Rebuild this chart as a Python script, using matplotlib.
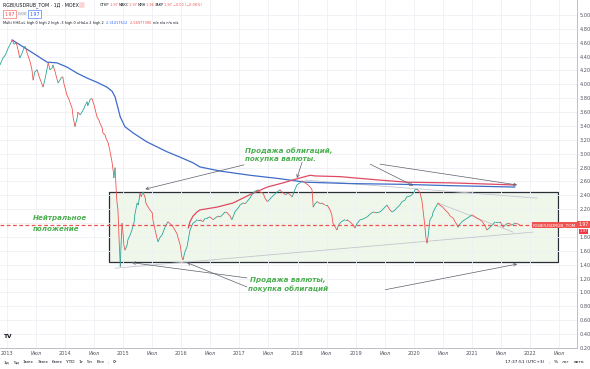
import matplotlib
matplotlib.use('Agg')
import matplotlib.pyplot as plt
import numpy as np
from matplotlib.collections import LineCollection
from matplotlib.patches import Rectangle

plt.rcParams['font.family'] = ['DejaVu Sans']

# ---- data (decimal years, price) ----
price_t = [2012.88, 2012.93, 2012.97, 2013.02, 2013.05, 2013.09, 2013.12, 2013.16, 2013.19, 2013.22,
           2013.26, 2013.29, 2013.31, 2013.34, 2013.40, 2013.43, 2013.45, 2013.48, 2013.52, 2013.55,
           2013.59, 2013.62, 2013.65, 2013.67, 2013.71, 2013.74, 2013.78, 2013.79, 2013.83, 2013.84,
           2013.88, 2013.91, 2013.93, 2013.96, 2013.98, 2014.00, 2014.03, 2014.07, 2014.08, 2014.12,
           2014.14, 2014.17, 2014.19, 2014.21, 2014.22, 2014.26, 2014.29, 2014.33, 2014.34, 2014.38,
           2014.39, 2014.43, 2014.46, 2014.50, 2014.52, 2014.55, 2014.58, 2014.60, 2014.64, 2014.65,
           2014.69, 2014.70, 2014.74, 2014.77, 2014.81, 2014.83, 2014.84, 2014.86, 2014.88, 2014.89,
           2014.91, 2014.93, 2014.95, 2014.96, 2014.98, 2015.00, 2015.01, 2015.03, 2015.07, 2015.08,
           2015.12, 2015.15, 2015.19, 2015.20, 2015.24, 2015.26, 2015.29, 2015.31, 2015.34, 2015.38,
           2015.39, 2015.43, 2015.46, 2015.50, 2015.51, 2015.55, 2015.58, 2015.60, 2015.63, 2015.67,
           2015.70, 2015.72, 2015.75, 2015.77, 2015.81, 2015.84, 2015.87, 2015.89, 2015.93, 2015.94,
           2015.98, 2016.01, 2016.03, 2016.06, 2016.10, 2016.12, 2016.15, 2016.18, 2016.20, 2016.24,
           2016.27, 2016.32, 2016.37, 2016.41, 2016.44, 2016.49, 2016.55, 2016.58, 2016.63, 2016.67,
           2016.72, 2016.75, 2016.79, 2016.84, 2016.87, 2016.91, 2016.92, 2016.98, 2017.01, 2017.06,
           2017.10, 2017.13, 2017.18, 2017.23, 2017.27, 2017.32, 2017.35, 2017.41, 2017.44, 2017.48,
           2017.51, 2017.56, 2017.60, 2017.65, 2017.70, 2017.73, 2017.79, 2017.84, 2017.87, 2017.91,
           2017.94, 2017.99, 2018.04, 2018.08, 2018.13, 2018.18, 2018.22, 2018.25, 2018.27, 2018.30,
           2018.34, 2018.39, 2018.42, 2018.47, 2018.51, 2018.56, 2018.59, 2018.61, 2018.65, 2018.68,
           2018.70, 2018.73, 2018.77, 2018.82, 2018.85, 2018.90, 2018.94, 2018.99, 2019.02, 2019.08,
           2019.13, 2019.20, 2019.25, 2019.30, 2019.35, 2019.42, 2019.47, 2019.54, 2019.59, 2019.63,
           2019.68, 2019.71, 2019.76, 2019.80, 2019.85, 2019.88, 2019.94, 2019.97, 2020.01, 2020.02,
           2020.06, 2020.09, 2020.11, 2020.14, 2020.16, 2020.19, 2020.21, 2020.23, 2020.25, 2020.28,
           2020.32, 2020.33, 2020.37, 2020.42, 2020.45, 2020.50, 2020.54, 2020.59, 2020.63, 2020.68,
           2020.71, 2020.75, 2020.76, 2020.80, 2020.83, 2020.88, 2020.92, 2020.97, 2021.00, 2021.06,
           2021.09, 2021.14, 2021.18, 2021.23, 2021.26, 2021.30, 2021.35, 2021.40, 2021.45, 2021.49,
           2021.54, 2021.57, 2021.62, 2021.66, 2021.69, 2021.74, 2021.79, 2021.83]
price_v = [4.28, 4.38, 4.42, 4.52, 4.57, 4.64, 4.58, 4.60, 4.50, 4.38,
           4.45, 4.52, 4.55, 4.47, 4.32, 4.21, 4.06, 4.18, 4.21, 4.12,
           4.03, 3.96, 4.06, 4.14, 4.31, 4.21, 4.24, 4.28, 4.18, 4.14,
           4.02, 4.06, 4.09, 4.11, 4.01, 3.95, 3.85, 3.78, 3.75, 3.66,
           3.52, 3.39, 3.46, 3.52, 3.60, 3.56, 3.60, 3.66, 3.69, 3.75,
           3.69, 3.78, 3.80, 3.70, 3.63, 3.53, 3.49, 3.44, 3.37, 3.30,
           3.27, 3.23, 3.16, 3.05, 2.87, 2.74, 2.65, 2.80, 2.48, 2.33,
           2.19, 1.76, 1.37, 1.61, 2.00, 1.83, 1.69, 1.61, 1.69, 1.76,
           1.83, 1.90, 2.02, 2.12, 2.29, 2.26, 2.43, 2.38, 2.45, 2.36,
           2.29, 2.23, 2.19, 2.15, 2.05, 1.90, 1.79, 1.73, 1.79, 1.83,
           1.90, 1.94, 1.99, 2.02, 1.99, 1.97, 1.93, 1.90, 1.84, 1.80,
           1.69, 1.51, 1.47, 1.58, 1.66, 1.76, 1.90, 1.96, 2.00, 2.02,
           2.05, 2.05, 2.02, 2.07, 2.07, 2.09, 2.05, 2.07, 2.10, 2.09,
           2.13, 2.16, 2.15, 2.10, 2.05, 2.13, 2.16, 2.22, 2.26, 2.29,
           2.28, 2.31, 2.36, 2.43, 2.46, 2.48, 2.45, 2.43, 2.36, 2.31,
           2.33, 2.38, 2.41, 2.45, 2.48, 2.45, 2.41, 2.43, 2.41, 2.38,
           2.45, 2.55, 2.58, 2.61, 2.58, 2.55, 2.52, 2.48, 2.23, 2.28,
           2.31, 2.28, 2.29, 2.26, 2.26, 2.19, 2.12, 2.00, 1.94, 1.90,
           1.96, 2.00, 2.03, 2.05, 2.05, 2.02, 1.99, 1.93, 1.99, 2.05,
           2.06, 2.09, 2.13, 2.16, 2.15, 2.16, 2.20, 2.26, 2.19, 2.16,
           2.19, 2.22, 2.26, 2.31, 2.33, 2.38, 2.39, 2.41, 2.45, 2.48,
           2.49, 2.46, 2.43, 2.33, 2.19, 1.97, 1.79, 1.71, 1.83, 2.05,
           2.10, 2.15, 2.22, 2.29, 2.26, 2.23, 2.19, 2.15, 2.10, 2.07,
           2.02, 1.97, 1.94, 1.99, 2.02, 2.05, 2.07, 2.10, 2.12, 2.09,
           2.07, 2.05, 2.02, 1.96, 1.90, 1.93, 1.97, 2.02, 2.02, 2.02,
           1.94, 1.97, 2.00, 1.99, 1.97, 2.00, 1.99, 1.97]

ma_blue_t = [2013.09, 2013.28, 2013.45, 2013.69, 2013.86, 2014.03, 2014.21, 2014.38, 2014.55, 2014.72,
             2014.81, 2014.86, 2014.91, 2014.95, 2015.03, 2015.17, 2015.41, 2015.58, 2015.75, 2015.98,
             2016.20, 2016.32, 2016.67, 2017.18, 2017.70, 2018.13, 2018.90, 2019.76, 2020.63, 2021.74]
ma_blue_v = [4.64, 4.54, 4.45, 4.32, 4.31, 4.25, 4.16, 4.09, 4.03, 3.96,
             3.90, 3.82, 3.66, 3.53, 3.39, 3.30, 3.17, 3.10, 3.03, 2.95,
             2.87, 2.81, 2.75, 2.69, 2.64, 2.59, 2.57, 2.56, 2.54, 2.52]

ma_red_t = [2016.12, 2016.15, 2016.20, 2016.27, 2016.32, 2016.61, 2016.89, 2017.18, 2017.48, 2017.75,
            2018.04, 2018.22, 2018.30, 2018.73, 2019.42, 2019.88, 2020.63, 2021.02, 2021.74]
ma_red_v = [1.93, 2.02, 2.10, 2.16, 2.19, 2.23, 2.29, 2.41, 2.52, 2.58,
            2.65, 2.69, 2.68, 2.67, 2.62, 2.59, 2.58, 2.57, 2.55]

support_t = [2014.86, 2022.05]
support_v = [1.35, 1.87]
upper_t = [2018.13, 2022.12]
upper_v = [2.62, 2.36]
down_t = [2020.42, 2021.71]
down_v = [2.29, 1.87]

box_t = [2014.76, 2022.48]
box_v = [1.44, 2.45]
last_price = 1.97

# arrows: (tail_t, tail_v, tip_t, tip_v)
arrows_top = [(2017.08, 2.84, 2015.38, 2.49),
              (2018.08, 2.88, 2017.99, 2.65),
              (2019.25, 2.85, 2019.99, 2.54),
              (2019.42, 2.85, 2021.78, 2.55)]
arrows_bottom = [(2017.13, 1.21, 2015.15, 1.43),
                 (2017.13, 1.08, 2016.10, 1.43),
                 (2019.51, 1.04, 2021.78, 1.41)]

labels_text = [("Продажа облигаций,", 2017.10, 3.05), ("покупка валюты.", 2017.10, 2.93),
               ("Нейтральное", 2013.45, 2.07), ("положение", 2013.45, 1.91),
               ("Продажа валюты,", 2017.18, 1.18), ("покупка облигаций", 2017.15, 1.06)]

y_ticks = [round(0.2 * i, 2) for i in range(1, 26)]
x_years = list(range(2013, 2023))
x_tick_pos = []
x_tick_lab = []
for yr in x_years:
    x_tick_pos += [yr, yr + 0.5]
    x_tick_lab += [str(yr), "Июл"]

# ---- figure ----
W, H = 590, 369
fig = plt.figure(figsize=(W / 100, H / 100), dpi=100)
fig.patch.set_facecolor('white')
ax = fig.add_axes([0, 21 / H, 577 / W, 348 / H])
ax.set_xlim(2012.88, 2022.81)
ax.set_ylim(0.20, 5.216)

ax.set_xticks(x_tick_pos)
ax.set_xticklabels(x_tick_lab)
ax.set_yticks(y_ticks)
# the 2.00 label is hidden behind the last-price badge, as in the reference
ax.set_yticklabels(["" if abs(v - 2.0) < 1e-9 else f"{v:.2f}" for v in y_ticks])
ax.yaxis.tick_right()
ax.grid(True, color='#eef0f5', lw=0.6, zorder=0)
ax.tick_params(axis='both', length=0, labelsize=3.6, labelcolor='#50535e')
ax.tick_params(axis='y', pad=2)
ax.tick_params(axis='x', pad=2)
for s in ['top', 'left']:
    ax.spines[s].set_visible(False)
for s in ['bottom', 'right']:
    ax.spines[s].set_color('#b2b5be')
    ax.spines[s].set_linewidth(0.6)

# range box
ax.add_patch(Rectangle((box_t[0], box_v[0]), box_t[1] - box_t[0], box_v[1] - box_v[0],
                       facecolor='#eef7ea', edgecolor='#2a2e39', lw=0.9, zorder=1))

for tt, vv in [(support_t, support_v), (upper_t, upper_v), (down_t, down_v)]:
    ax.plot(tt, vv, color='#c3c6ce', lw=0.6, zorder=2)

ax.plot(ma_blue_t, ma_blue_v, color='#3d6cc9', lw=0.9, zorder=3)
ax.plot(ma_red_t, ma_red_v, color='#df4a63', lw=0.9, zorder=3.1)

pt = np.array(price_t)
pv = np.array(price_v)
segs = np.stack([np.column_stack([pt[:-1], pv[:-1]]), np.column_stack([pt[1:], pv[1:]])], axis=1)
cols = ['#26a69a' if b >= a else '#ef5350' for a, b in zip(pv[:-1], pv[1:])]
ax.add_collection(LineCollection(segs, colors=cols, linewidths=0.6, zorder=4))

ax.axhline(last_price, color='#ef5350', lw=0.9, ls=(0, (3, 2)), zorder=5)

for a in arrows_top + arrows_bottom:
    ax.annotate('', xy=(a[2], a[3]), xytext=(a[0], a[1]),
                arrowprops=dict(arrowstyle='->', color='#5d606b', lw=0.5,
                                mutation_scale=5, shrinkA=0, shrinkB=0), zorder=6)

for txt, tx, tv in labels_text:
    ax.text(tx, tv, txt, color='#4caf50', fontsize=5.1, fontstyle='italic',
            fontweight='bold', ha='left', va='center', zorder=7)

# right-axis price labels
ax.text(1.0, last_price, "RGBI/USDRUB_TOM ", transform=ax.get_yaxis_transform(),
        ha='right', va='center', fontsize=3.2, color='white', zorder=8,
        bbox=dict(boxstyle='square,pad=0.25', fc='#ef5350', ec='none'))
fig.text(583.5 / W, 1 - 224.5 / H, "1.97", ha='center', va='center', fontsize=3.3, color='white',
         bbox=dict(boxstyle='square,pad=0.2', fc='#ef5350', ec='none'))
fig.text(583.5 / W, 1 - 231.5 / H, "1.97", ha='center', va='center', fontsize=2.7, color='white',
         bbox=dict(boxstyle='square,pad=0.15', fc='#f23645', ec='none'))

renderer = fig.canvas.get_renderer()


def seq(x, y, parts, fs, gap=0.0, **kw):
    """Place text pieces one after another (pixel coords from top-left)."""
    cur = x
    for s, c in parts:
        t = fig.text(cur / W, 1 - y / H, s, fontsize=fs, color=c, va='center', ha='left', **kw)
        cur += t.get_window_extent(renderer).width + gap
    return cur


# header
seq(3, 5, [("RGBI/USDRUB_TOM · 1Д · MOEX", '#131722')], 3.4)
fig.text(80 / W, 1 - 5 / H, "   ", fontsize=3.0, va='center',
         bbox=dict(boxstyle='round,pad=0.2', fc='#fbd5d5', ec='none'))
seq(100, 5, [("ОТКР", '#131722'), ("1.97 ", '#ef5350'), ("МАКС", '#131722'), ("1.97 ", '#ef5350'),
             ("МИН", '#131722'), ("1.96 ", '#ef5350'), ("ЗАКР", '#131722'),
             ("1.97 −0.00 (−0.06%)", '#ef5350')], 2.5)
fig.text(4 / W, 1 - 14 / H, "1.97", fontsize=3.4, color='#ef5350', va='center',
         bbox=dict(boxstyle='square,pad=0.3', fc='white', ec='#ef5350', lw=0.4))
fig.text(18 / W, 1 - 14 / H, "0.00", fontsize=3.2, color='#787b86', va='center')
fig.text(29 / W, 1 - 14 / H, "1.97", fontsize=3.4, color='#2962ff', va='center',
         bbox=dict(boxstyle='square,pad=0.3', fc='white', ec='#2962ff', lw=0.4))
seq(3, 23, [("Multi HH/LoL high 0 high 2 high -3 high 0 oHaLo 2 high 2  ", '#131722'),
            ("2.31017612  ", '#2962ff'), ("2.56977386  ", '#ef5350'),
            ("n/a n/a n/a n/a", '#131722')], 2.5)

# TV logo
fig.text(4 / W, 1 - 337 / H, "TV", fontsize=4.2, fontweight='bold', color='#131722', va='center')

# bottom toolbar
seq(4, 362, [("1д", '#131722'), ("5д", '#131722'), ("1мес", '#131722'), ("3мес", '#131722'),
             ("6мес", '#131722'), ("YTD", '#131722'), ("1г", '#131722'), ("5л", '#131722'),
             ("Все", '#131722'), ("|", '#d1d4dc'), ("⟳", '#131722')], 3.2, gap=3.5)
seq(505, 362, [("17:37:51 (UTC+3)", '#131722'), ("|", '#d1d4dc'), ("%", '#131722'),
               ("лог", '#131722'), ("авто", '#131722')], 3.2, gap=4.0)

fig.savefig('out.png', dpi=100, facecolor='white')
